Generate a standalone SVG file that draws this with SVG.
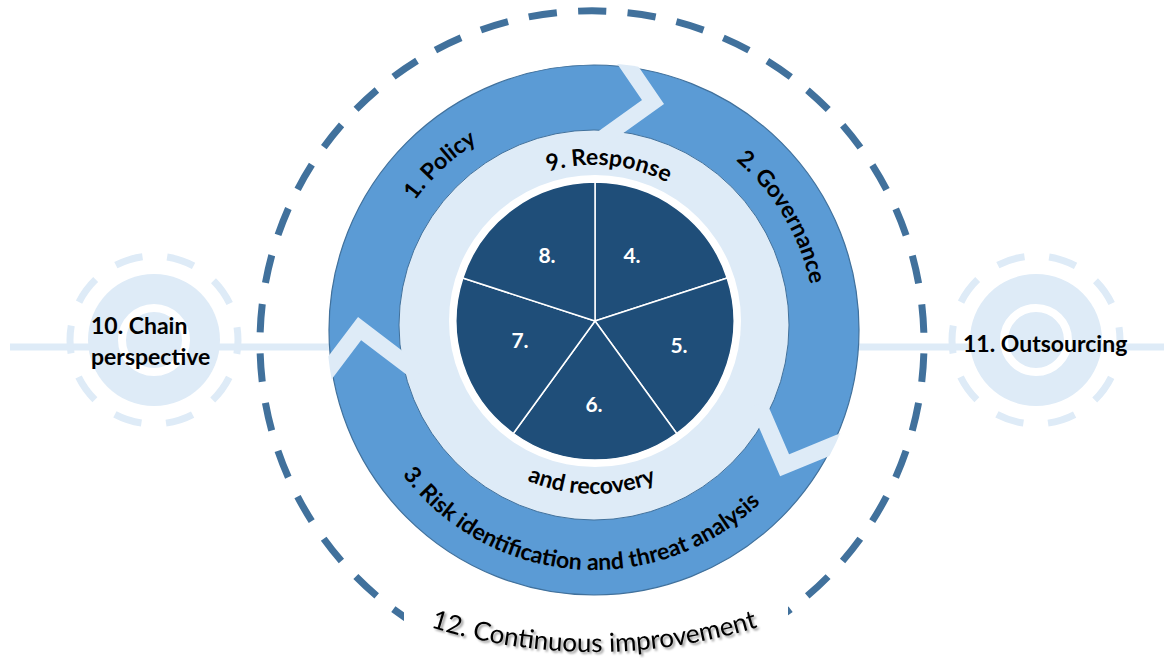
<svg xmlns="http://www.w3.org/2000/svg" width="1164" height="658" viewBox="0 0 1164 658">
  <style>
    .lbl { font-family: Lato, "Liberation Sans", sans-serif; font-weight: bold; fill: #000; font-size: 23px; }
    .num { font-family: Lato, "Liberation Sans", sans-serif; font-weight: bold; fill: #fff; font-size: 21px; text-anchor: middle; }
    .slice { fill: #1F4E79; stroke: #fff; stroke-width: 1.5; stroke-linejoin: round; }
    .gap { fill: none; stroke: #DEEBF7; stroke-linejoin: miter; stroke-linecap: butt; }
    .soft { fill: #DEEBF7; }
  </style>
  <defs>
    <clipPath id="ringClip"><circle cx="594" cy="330" r="267"/></clipPath>
    <filter id="shadow" x="-10%" y="-40%" width="120%" height="180%">
      <feDropShadow dx="2" dy="2" stdDeviation="1.3" flood-color="#000" flood-opacity="0.4"/>
    </filter>
    <!-- text baselines -->
    <path id="pPolicy" d="M378.7 379.7 A221 221 0 0 1 658.6 118.7"/>
    <path id="pGov" d="M590.1 109 A221 221 0 0 1 787.3 437.1"/>
    <path id="pRisk" d="M358 373.7 A240 240 0 0 0 820.2 410.1"/>
    <path id="pResp" d="M463.4 232.5 A160 160 0 0 1 739.4 258.1"/>
    <path id="pRec" d="M445.6 407.9 A171 171 0 0 0 740 412"/>
    <path id="pCont" d="M318 578 A552 552 0 0 0 870 578"/>
  </defs>

  <rect width="1164" height="658" fill="#fff"/>

  <!-- connectors: horizontal axis -->
  <g id="connectors">
    <line x1="10" y1="347" x2="1164" y2="347" stroke="#DEEBF7" stroke-width="7"/>
  </g>

  <!-- 10. Chain perspective -->
  <g id="node-10">
    <circle class="soft" cx="154" cy="340" r="66"/>
    <circle cx="154" cy="340" r="32" fill="#DEEBF7" stroke="#fff" stroke-width="8"/>
    <circle cx="154" cy="340" r="84" fill="none" stroke="#DEEBF7" stroke-width="7" stroke-dasharray="28 24.8" stroke-dashoffset="14"/>
    <text class="lbl" x="91" y="334">10. Chain</text>
    <text class="lbl" x="91" y="365">perspective</text>
  </g>

  <!-- 11. Outsourcing -->
  <g id="node-11">
    <circle class="soft" cx="1036" cy="340" r="66"/>
    <circle cx="1036" cy="340" r="32" fill="#DEEBF7" stroke="#fff" stroke-width="8"/>
    <circle cx="1036" cy="340" r="84" fill="none" stroke="#DEEBF7" stroke-width="7" stroke-dasharray="28 24.8" stroke-dashoffset="14"/>
    <text class="lbl" x="963" y="352">11. Outsourcing</text>
  </g>

  <!-- 12. Continuous improvement: dashed outer loop -->
  <g id="node-12">
    <path d="M924 343 A332 332 0 1 1 260 343 A332 332 0 1 1 924 343" fill="none" stroke="#41719C" stroke-width="7" stroke-dasharray="28.4 21.27" stroke-dashoffset="-10.6"/>
    <rect x="404" y="602" width="384" height="56" fill="#fff"/>
    <text font-family="Lato, 'Liberation Sans', sans-serif" font-size="26" fill="#000" filter="url(#shadow)"><textPath href="#pCont" startOffset="50%" text-anchor="middle">12. Continuous improvement</textPath></text>
  </g>

  <!-- cycle 1-2-3 -->
  <g id="cycle">
    <circle cx="594" cy="330" r="265" fill="#5B9BD5" stroke="#41719C" stroke-width="1.2"/>
  </g>

  <!-- 9. Response and recovery -->
  <g id="node-9">
    <circle cx="594" cy="325" r="195" fill="#DEEBF7" stroke="#41719C" stroke-width="1"/>
    <text class="lbl"><textPath href="#pResp" startOffset="50%" text-anchor="middle">9. Response</textPath></text>
    <text class="lbl"><textPath href="#pRec" startOffset="50%" text-anchor="middle">and recovery</textPath></text>
  </g>

  <!-- chevron joints between the cycle stages -->
  <g id="cycle-joints" clip-path="url(#ringClip)">
    <polyline class="gap" stroke-width="16" points="621.8,56.4 653,102 599.6,140.3"/>
    <polyline class="gap" stroke-width="17" points="758.2,404.2 784.6,465.3 852.5,437.3"/>
    <polyline class="gap" stroke-width="16.5" points="318.5,383 359.6,328.6 418.9,373.8"/>
  </g>

  <g id="node-1">
    <text class="lbl"><textPath href="#pPolicy" startOffset="50%" text-anchor="middle">1. Policy</textPath></text>
  </g>
  <g id="node-2">
    <text class="lbl"><textPath href="#pGov" startOffset="50%" text-anchor="middle">2. Governance</textPath></text>
  </g>
  <g id="node-3">
    <text class="lbl" font-size="24"><textPath href="#pRisk" startOffset="50%" text-anchor="middle">3. Risk identification and threat analysis</textPath></text>
  </g>

  <!-- core pie 4-8 -->
  <circle cx="595" cy="321" r="146" fill="#fff"/>
  <g id="node-4">
    <path class="slice" d="M595 321 L595 182 A139 139 0 0 1 727.2 278 Z"/>
    <text class="num" x="632" y="263">4.</text>
  </g>
  <g id="node-5">
    <path class="slice" d="M595 321 L727.2 278 A139 139 0 0 1 676.7 433.5 Z"/>
    <text class="num" x="679" y="353">5.</text>
  </g>
  <g id="node-6">
    <path class="slice" d="M595 321 L676.7 433.5 A139 139 0 0 1 513.3 433.5 Z"/>
    <text class="num" x="594" y="412">6.</text>
  </g>
  <g id="node-7">
    <path class="slice" d="M595 321 L513.3 433.5 A139 139 0 0 1 462.8 278 Z"/>
    <text class="num" x="520" y="348">7.</text>
  </g>
  <g id="node-8">
    <path class="slice" d="M595 321 L462.8 278 A139 139 0 0 1 595 182 Z"/>
    <text class="num" x="547" y="263">8.</text>
  </g>
</svg>
